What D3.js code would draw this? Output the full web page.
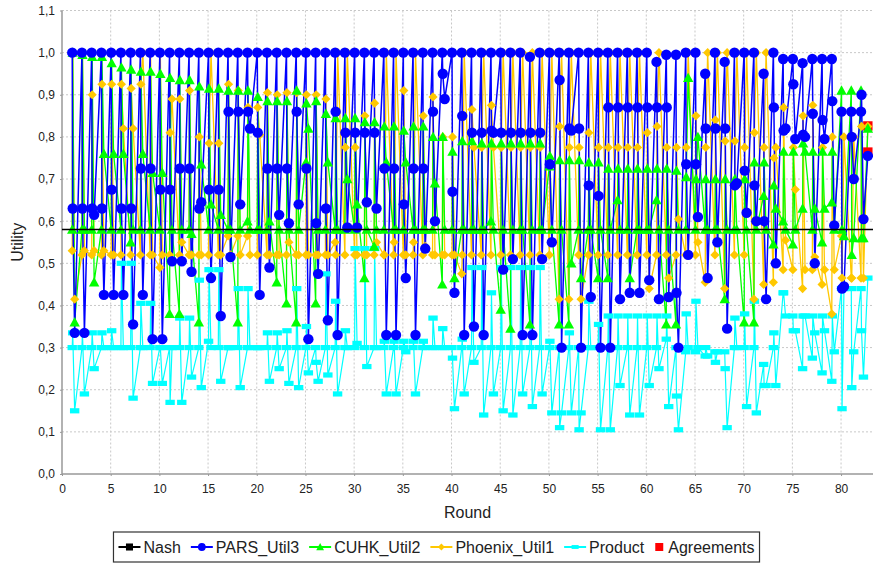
<!DOCTYPE html>
<html>
<head>
<meta charset="utf-8">
<script src="https://cdn.jsdelivr.net/npm/d3@7"></script>
<style>
  body { margin: 0; background: #fff; }
  text { font-family: "Liberation Sans", Arial, sans-serif; fill: #222; }
</style>
</head>
<body>
<div id="chart"></div>
<script>
// Each round has three bids; values listed round by round (3 per round)
const pars = [
  1,.63,.335, 1,.63,.335, 1,.63,.615, 1,.63,.425, 1,.675,.425,
  1,.63,.425, 1,.63,.355, 1,.725,.425, 1,.725,.32, 1,.675,.32,
  1,.675,.505, 1,.725,.505, 1,.725,.48, 1,.63,.645, 1,.675,.465,
  1,.675,.375, 1,.86,.515, 1,.86,.64, 1,.86,.82, 1,.81,.425,
  1,.725,.49, 1,.725,.615, 1,.725,.595, 1,.86,.64, 1,.725,.32,
  1,.595,.475, 1,.63,.365, 1,.86,.33, 1,.81,.585, 1,.81,.585,
  1,.81,.645, 1,.81,.63, 1,.725,.33, 1,.725,.33, 1,.64,.465,
  1,.725,.33, 1,.725,.535, 1,.86,.60, 1,.95,.89, 1,.67,.43,
  1,.85,.33, 1,.81,.35, 1,.81,.33, 1,.815,.81, 1,.81,.485,
  1,.81,.51, 1,.81,.33, .99,.81,.33, 1,.81,.51, 1,.735,.55,
  1,.935,.30, 1,.82,.815, 1,.82,.30, 1,.685,.42, 1,.66,.30,
  1,.87,.30, 1,.87,.415, 1,.87,.43, 1,.87,.43, 1,.87,.46,
  .978,.87,.415, .995,.87,.42, .995,.43,.30, 1,.735,.52, 1,.735,.61,
  .95,.82,.465, 1,.82,.55, .978,.82,.345, 1,.685,.69, 1,.72,.62,
  1,.685,.60, .95,.60,.415, 1,.87,.50, .985,.815,.82, .985,.925,.795,
  .975,.805,.80, .985,.855,.50, .985,.84,.795, .985,.885,.59, .86,.44,.445,
  .86,.80,.70, .86,.90,.605
];
const cuhk = [
  .58,1,.36, .58,.995,.58, .58,.99,.455, .58,.99,.76, .58,.975,.76,
  .58,.965,.76, .55,.96,.58, .58,.955,.76, .58,.955,.715, .58,.95,.715,
  .38,.94,.58, .38,.935,.58, .58,.935,.57, .36,.92,.735, .58,.915,.64,
  .58,.915,.615, .58,.91,.58, .36,.91,.58, .60,.91,.58, .58,.895,.58,
  .58,.885,.60, .455,.885,.58, .405,.885,.58, .36,.91,.58, .74,.88,.82,
  .405,.885,.58, .58,.855,.74, .58,.845,.58, .58,.845,.70, .58,.845,.64,
  .465,.835,.58, .54,.835,.58, .58,.825,.74, .58,.825,.58, .58,.815,.74,
  .58,.825,.58, .58,.825,.58, .58,.80,.69, .45,.80,.58, .58,.765,.465,
  .58,.79,.58, .58,.79,.58, .58,.785,.58, .60,.785,.58, .39,.785,.58,
  .345,.785,.58, .58,.785,.58, .355,.785,.58, .58,.785,.58, .73,.755,.58,
  .355,.745,.58, .355,.745,.50, .58,.745,.465, .58,.74,.58, .465,.74,.58,
  .465,.725,.58, .65,.725,.58, .58,.725,.465, .58,.725,.58, .58,.725,.58,
  .65,.725,.58, .355,.725,.58, .355,.72,.58, .58,.705,.94, .58,.70,.80,
  .58,.70,.58, .58,.70,.58, .415,.70,.58, .58,.70,.58, .36,.70,.58,
  .36,.74,.58, .66,.74,.58, .545,.685,.63, .60,.765,.58, .545,.765,.58,
  .63,.785,.765, .58,.765,.63, .55,.765,.63, .645,.765,.58, .91,.58,.565,
  .91,.52,.56, .91,.56,.56
];
const phoenix = [
  .53,1,.415, .52,1,.53, .52,.90,.53, .52,.925,.53, .52,.925,.52,
  .52,.925,.82, .52,.915,.82, .52,.925,1, .52,1,.52, .49,1,.52,
  .52,.81,.89, .52,.89,.55, .52,.91,.52, .52,.80,.52, .52,.785,1,
  .52,.785,.52, .565,.925,.52, .565,.91,.52, .565,.87,.52, .52,.87,.805,
  .52,.905,.52, .52,.90,.52, .52,.905,.55, .52,.905,.52, .52,.90,.52,
  .52,.90,.52, .52,.89,.52, .55,.52,1, .52,.775,1, .52,.775,.52,
  .52,.85,.52, .52,.88,.55, .52,.52,1, .52,.55,1, .52,.91,.52,
  .52,.55,1, .52,.85,.54, .52,.895,.52, .52,.80,.52, .52,.80,.52,
  .475,.52,1, .52,.865,.775, .52,.775,1, .52,.875,.775, .52,.775,1,
  .52,.775,1, .52,.775,1, .52,.775,1, .52,.775,1, .52,.73,1,
  .415,.825,1, .415,.775,1, .52,.775,.415, .52,.81,1, .52,.775,1,
  .52,.775,1, .52,.775,1, .52,.775,1, .52,.775,1, .52,.81,.44,
  .52,.825,1, .52,.775,.465, .52,.775,.605, .52,.775,1, .52,.85,.55,
  .455,.775,1, .52,.84,1, .44,.79,1, .52,.79,1, .52,.775,1,
  .415,.81,1, .45,.775,1, .455,.75,.775, .485,.87,.555, .485,.775,.675,
  .44,.85,.485, .485,.875,.515, .45,.775,.485, .38,.80,.485, .565,.465,.80,
  .465,.465,.80, .465,.825,.465
];
const product = [
  .30,.335,.15, .30,.335,.19, .30,.335,.25, .30,.335,.30, .30,.34,.30,
  .30,.50,.30, .30,.50,.18, .30,.405,.30, .30,.405,.215, .30,.30,.215,
  .30,.17,.30, .30,.37,.17, .30,.37,.23, .30,.46,.205, .315,.485,.30,
  .30,.485,.22, .30,.30,.30, .30,.44,.205, .30,.44,.30, .30,.30,.30,
  .30,.335,.22, .30,.335,.25, .30,.34,.215, .30,.44,.205, .30,.35,.24,
  .30,.265,.22, .30,.475,.235, .30,.41,.19, .30,.34,.30, .30,.535,.31,
  .30,.535,.255, .30,.535,.30, .30,.315,.19, .30,.315,.19, .30,.315,.29,
  .30,.315,.19, .30,.315,.30, .30,.37,.30, .30,.345,.30, .30,.275,.155,
  .30,.32,.19, .30,.49,.265, .30,.49,.14, .30,.43,.19, .30,.49,.15,
  .30,.49,.14, .30,.49,.19, .30,.49,.16, .30,.49,.19, .30,.315,.145,
  .30,.11,.145, .30,.335,.145, .30,.105,.145, .30,.41,.30, .30,.355,.105,
  .30,.375,.105, .30,.375,.21, .30,.375,.14, .30,.375,.14, .30,.375,.21,
  .30,.375,.25, .32,.375,.16, .30,.185,.105, .29,.38,.30, .29,.41,.30,
  .28,.30,.28, .29,.265,.29, .29,.25,.11, .30,.37,.30, .30,.38,.16,
  .30,.41,.145, .26,.21,.21, .30,.335,.21, .43,.43,.375, .375,.34,.34,
  .25,.375,.375, .275,.375,.335, .24,.375,.34, .22,.375,.29, .44,.155,.44,
  .44,.205,.29, .44,.34,.23
];
// final bid (agreement) per series: PARS, CUHK, Phoenix, Product
const finalBid = [0.755, 0.82, 0.825, 0.465];
const agreementRound = 82.75;
const agreements = [0.826, 0.764];
const nash = 0.58;

const xTicks = [0, 5, 10, 15, 20, 25, 30, 35, 40, 45, 50, 55, 60, 65, 70, 75, 80];
const yTicks = [0, 0.1, 0.2, 0.3, 0.4, 0.5, 0.6, 0.7, 0.8, 0.9, 1.0, 1.1];

const width = 873, height = 564;
const plot = { left: 62, right: 873, top: 10.5, bottom: 474 };

const svg = d3.select("#chart").append("svg")
  .attr("width", width).attr("height", height);

const x = d3.scaleLinear().domain([0, 83.28]).range([plot.left, plot.right]);
const y = d3.scaleLinear().domain([0, 1.1]).range([plot.bottom, plot.top]);

const comma = d3.formatLocale({ decimal: ",", thousands: ".", grouping: [3], currency: ["", ""] });

// gridlines
const grid = svg.append("g").attr("stroke", "#c8c8c8").attr("stroke-dasharray", "2,2");
grid.selectAll(".gx").data(xTicks.filter(d => d > 0)).join("line")
  .attr("x1", d => x(d)).attr("x2", d => x(d))
  .attr("y1", plot.top).attr("y2", plot.bottom);
grid.selectAll(".gy").data(yTicks.filter(d => d > 0)).join("line")
  .attr("x1", plot.left).attr("x2", plot.right)
  .attr("y1", d => y(d)).attr("y2", d => y(d));

// axes
const xAxis = svg.append("g").attr("transform", `translate(0,${plot.bottom})`)
  .call(d3.axisBottom(x).tickValues(xTicks).tickSize(2).tickPadding(8).tickFormat(d3.format("d")));
const yAxis = svg.append("g").attr("transform", `translate(${plot.left},0)`)
  .call(d3.axisLeft(y).tickValues(yTicks).tickSize(2).tickPadding(5).tickFormat(comma.format(".1f")));
[xAxis, yAxis].forEach(a => {
  a.select(".domain").remove();
  a.selectAll("line").attr("stroke", "#999");
  a.selectAll("text").attr("font-size", 12).attr("fill", "#333")
    .style("font-family", '"Liberation Sans", Arial, sans-serif');
});
svg.append("line").attr("x1", plot.left).attr("x2", plot.left)
  .attr("y1", plot.top).attr("y2", plot.bottom).attr("stroke", "#999").attr("stroke-width", 1.5);
svg.append("line").attr("x1", plot.left).attr("x2", plot.right)
  .attr("y1", plot.bottom).attr("y2", plot.bottom).attr("stroke", "#999").attr("stroke-width", 1.5);

svg.append("text").attr("x", (plot.left + plot.right) / 2).attr("y", 518)
  .attr("text-anchor", "middle").attr("font-size", 16).text("Round");
svg.append("text").attr("transform", `translate(23,${(plot.top + plot.bottom) / 2}) rotate(-90)`)
  .attr("text-anchor", "middle").attr("font-size", 16).text("Utility");

// shapes
function shapePath(type, k = 1) {
  const r = 5.2 * k;
  switch (type) {
    case "circle": return `M${-r},0a${r},${r} 0 1,0 ${2 * r},0a${r},${r} 0 1,0 ${-2 * r},0Z`;
    case "triangle": return `M0,${-5.2 * k}L${5.2 * k},${4.2 * k}L${-5.2 * k},${4.2 * k}Z`;
    case "diamond": return `M0,${-4.6 * k}L${4.6 * k},0L0,${4.6 * k}L${-4.6 * k},0Z`;
    case "rect": return `M${-4.7 * k},${-2.6 * k}h${9.4 * k}v${5.2 * k}h${-9.4 * k}Z`;
    default: return `M${-4.7 * k},${-4.7 * k}h${9.4 * k}v${9.4 * k}h${-9.4 * k}Z`;
  }
}

const offsets = [0.05, 0.1, 0.3];
function toPoints(vals, last) {
  const pts = vals.map((v, i) => ({ x: Math.floor(i / 3) + 1 + offsets[i % 3], y: v }));
  pts.push({ x: agreementRound, y: last });
  return pts;
}

const series = [
  { name: "Nash", color: "#000000", shape: "square", width: 1.5, line: true,
    points: [{ x: 0, y: nash }, { x: 83.28, y: nash }], markers: false },
  { name: "PARS_Util3", color: "#0000ff", shape: "circle", width: 1.5, line: true,
    points: toPoints(pars, finalBid[0]), markers: true },
  { name: "CUHK_Util2", color: "#00ff00", shape: "triangle", width: 1.3, line: true,
    points: toPoints(cuhk, finalBid[1]), markers: true },
  { name: "Phoenix_Util1", color: "#ffc800", shape: "diamond", width: 1.3, line: true,
    points: toPoints(phoenix, finalBid[2]), markers: true },
  { name: "Product", color: "#00ffff", shape: "rect", width: 1.2, line: true,
    points: toPoints(product, finalBid[3]), markers: true },
  { name: "Agreements", color: "#ff0000", shape: "square", width: 0, line: false,
    points: agreements.map(v => ({ x: agreementRound, y: v })), markers: true }
];

const line = d3.line().x(d => x(d.x)).y(d => y(d.y));
const drawOrder = series.slice().reverse();

// pass 1: lines, pass 2: shapes (last series drawn first)
const lines = svg.append("g");
drawOrder.filter(s => s.line && s.name !== "Nash").forEach(s => {
  lines.append("path").datum(s.points)
    .attr("fill", "none").attr("stroke", s.color).attr("stroke-width", s.width)
    .attr("stroke-linejoin", "round").attr("d", line);
});
const shapes = svg.append("g");
drawOrder.filter(s => s.markers).forEach(s => {
  shapes.append("g").selectAll("path").data(s.points).join("path")
    .attr("transform", d => `translate(${x(d.x)},${y(d.y)})`)
    .attr("d", shapePath(s.shape)).attr("fill", s.color);
});
const nashS = series[0];
svg.append("path").datum(nashS.points)
  .attr("fill", "none").attr("stroke", nashS.color).attr("stroke-width", nashS.width).attr("d", line);

// legend
const legend = svg.append("g");
const ly = 547;
let cx = 0;
series.forEach(s => {
  const item = legend.append("g");
  if (s.line) {
    item.append("line").attr("x1", cx).attr("x2", cx + 22).attr("y1", ly).attr("y2", ly)
      .attr("stroke", s.color).attr("stroke-width", 2);
    item.append("path").attr("transform", `translate(${cx + 11},${ly})`)
      .attr("d", shapePath(s.shape, 0.75)).attr("fill", s.color);
    cx += 25;
  } else {
    item.append("path").attr("transform", `translate(${cx + 5},${ly})`)
      .attr("d", shapePath(s.shape, 0.85)).attr("fill", s.color);
    cx += 14;
  }
  const t = item.append("text").attr("x", cx).attr("y", ly + 6).attr("font-size", 16).text(s.name);
  cx += t.node().getComputedTextLength() + 10;
});
const contentW = cx - 10;
const boxW = contentW + 10;
const boxX = width / 2 - boxW / 2;
legend.attr("transform", `translate(${boxX + 5},0)`);
svg.insert("rect", "g")
  .attr("x", boxX).attr("y", 532).attr("width", boxW).attr("height", 30)
  .attr("fill", "#fff").attr("stroke", "#333").attr("stroke-width", 1.2);
</script>
</body>
</html>
